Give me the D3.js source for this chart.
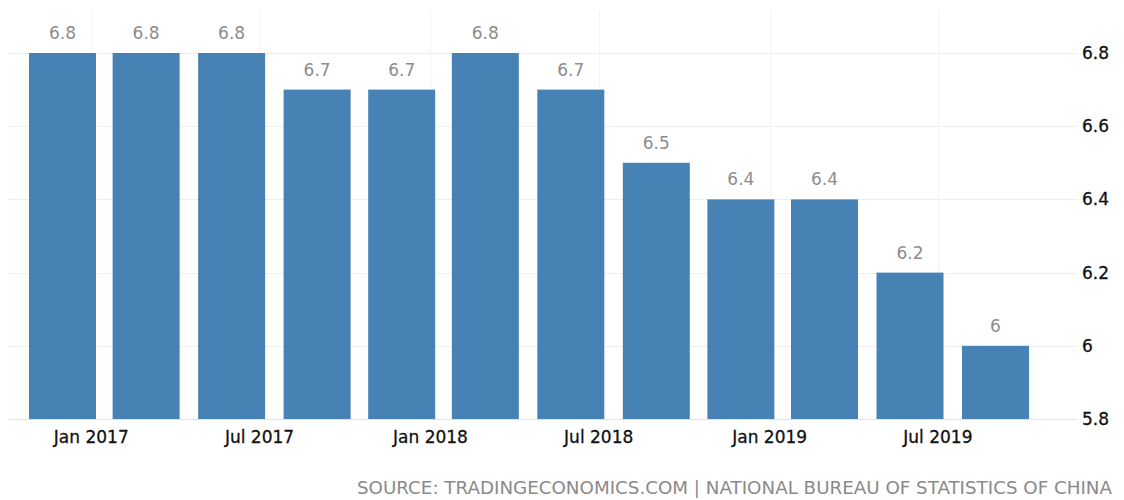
<!DOCTYPE html>
<html>
<head>
<meta charset="utf-8">
<script src="https://cdn.jsdelivr.net/npm/d3@7"></script>
<style>
  html, body { margin: 0; padding: 0; background: #fff; }
  svg { display: block; }
  text { font-family: "DejaVu Sans", sans-serif; }
</style>
</head>
<body>
<svg id="chart" width="1124" height="500"></svg>
<script>
// Quarterly GDP annual growth rate, China
const periods = ["2016-12-01", "2017-03-01", "2017-06-01", "2017-09-01",
                 "2017-12-01", "2018-03-01", "2018-06-01", "2018-09-01",
                 "2018-12-01", "2019-03-01", "2019-06-01", "2019-09-01"];
const values = [6.8, 6.8, 6.8, 6.7, 6.7, 6.8, 6.7, 6.5, 6.4, 6.4, 6.2, 6.0];
const yTicks = [5.8, 6.0, 6.2, 6.4, 6.6, 6.8];
const yTickLabels = ["5.8", "6", "6.2", "6.4", "6.6", "6.8"];
const sourceText = "SOURCE: TRADINGECONOMICS.COM | NATIONAL BUREAU OF STATISTICS OF CHINA";

const svg = d3.select("#chart");
const dates = periods.map(d => d3.utcParse("%Y-%m-%d")(d));

const x = d3.scaleUtc()
  .domain([dates[0], dates[dates.length - 1]])
  .range([62.5, 995.5]);
const barWidth = 67;

const y = d3.scaleLinear().domain([5.8, 6.8]).range([419, 53]);

// horizontal grid
svg.append("g").selectAll("line")
  .data(yTicks)
  .join("line")
  .attr("x1", 8).attr("x2", 1077)
  .attr("y1", d => Math.round(y(d)) + 0.5)
  .attr("y2", d => Math.round(y(d)) + 0.5)
  .attr("stroke", d => d === 5.8 ? "#e2e2e2" : "#eeeeee")
  .attr("stroke-width", 1);

// vertical grid at the half-year ticks
const xTicks = x.ticks(d3.utcMonth.every(6));
svg.append("g").selectAll("line")
  .data(xTicks)
  .join("line")
  .attr("x1", d => Math.round(x(d)) + 0.5)
  .attr("x2", d => Math.round(x(d)) + 0.5)
  .attr("y1", 10).attr("y2", 419)
  .attr("stroke", "#f4f4f4");

// bars
svg.append("g").selectAll("rect")
  .data(values)
  .join("rect")
  .attr("x", (d, i) => x(dates[i]) - barWidth / 2)
  .attr("width", barWidth)
  .attr("y", d => y(d))
  .attr("height", d => y(5.8) - y(d))
  .attr("fill", "#4682b4");

// value labels
svg.append("g").selectAll("text")
  .data(values)
  .join("text")
  .attr("x", (d, i) => x(dates[i]))
  .attr("y", d => y(d) - 14)
  .attr("text-anchor", "middle")
  .attr("font-size", 17)
  .attr("fill", "#8c8c8c")
  .text(d => d3.format("~g")(d));

// x axis labels
const fmt = d3.utcFormat("%b %Y");
svg.append("g").selectAll("text")
  .data(xTicks)
  .join("text")
  .attr("x", d => x(d))
  .attr("y", 443)
  .attr("text-anchor", "middle")
  .attr("font-size", 17)
  .attr("fill", "#111")
  .attr("stroke", "#111")
  .attr("stroke-width", 0.3)
  .text(d => fmt(d));

// y axis labels on the right
svg.append("g").selectAll("text")
  .data(yTicks)
  .join("text")
  .attr("x", 1082)
  .attr("y", d => y(d) + 6)
  .attr("font-size", 17)
  .attr("fill", "#111")
  .attr("stroke", "#111")
  .attr("stroke-width", 0.3)
  .text((d, i) => yTickLabels[i]);

// source line
svg.append("text")
  .attr("x", 1112)
  .attr("y", 494)
  .attr("text-anchor", "end")
  .attr("font-family", "'DejaVu Sans Condensed', 'DejaVu Sans', sans-serif")
  .attr("font-size", 18)
  .attr("fill", "#8a8a8a")
  .attr("textLength", 755)
  .attr("lengthAdjust", "spacingAndGlyphs")
  .text(sourceText);
</script>
</body>
</html>
